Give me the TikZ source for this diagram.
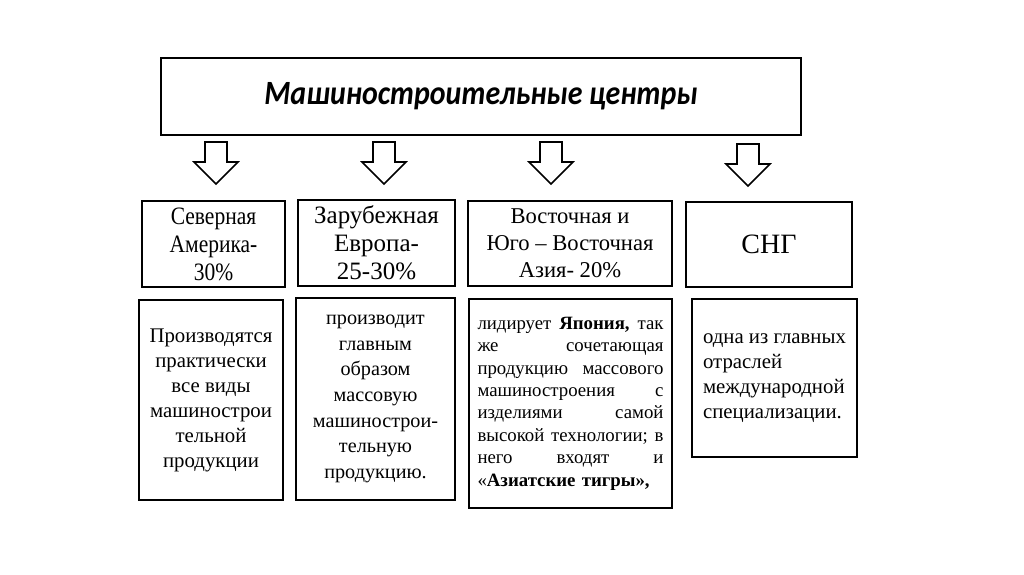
\documentclass[tikz,border=0pt]{standalone}
\usepackage{fontspec}
\setmainfont{Liberation Serif}[BoldFont={Liberation Serif Bold}]
\newfontfamily\titlefont{Carlito}[FakeStretch=0.88]
\newfontfamily\narrowfont{Liberation Serif}[FakeStretch=0.86]
\usetikzlibrary{positioning}
\newcommand\jline[1]{\leavevmode\hbox to 93pt{#1}}
\tikzset{
  hdr/.style ={draw,line width=1.2pt,inner sep=0pt,font=\titlefont\bfseries\itshape\fontsize{17}{20}\selectfont},
  reg/.style ={draw,line width=1.2pt,inner sep=0pt,align=center,font=\fontsize{12.5}{14}\selectfont},
  info/.style={draw,line width=1.2pt,inner sep=0pt,align=center,font=\fontsize{10.4}{12.5}\selectfont},
  downarr/.pic={\draw[line width=0.8pt] (-11,0) -- (-11,20) -- (-22,20) -- (0,42) -- (22,20) -- (11,20) -- (11,0) -- cycle;},
}
\begin{document}
\begin{tikzpicture}[x=0.5pt,y=-0.5pt]
  \useasboundingbox (0,0) rectangle (1024,574);
  \node[hdr,minimum width=320pt,minimum height=38.5pt] (title) at (481,96.5){Машиностроительные центры};
  % block arrows under the title
  \pic (arr1) at (216,142) {downarr};
  \pic (arr2) at (384,142) {downarr};
  \pic (arr3) at (551,142) {downarr};
  \pic (arr4) at (748,144) {downarr};
  % regions
  \node[reg,minimum width=71.5pt,minimum height=43pt,font=\narrowfont\fontsize{12.5}{14}\selectfont] (namer) at (213.5,244){Северная\\Америка-\\30\%};
  \node[reg,minimum width=78.5pt,minimum height=43pt] (europe) at (376.5,243){Зарубежная\\Европа-\\25-30\%};
  \node[reg,minimum width=102pt,minimum height=42.5pt,font=\fontsize{11.3}{13.5}\selectfont] (asia) at (570,243.5){Восточная и\\Юго – Восточная\\Азия- 20\%};
  \node[reg,minimum width=83pt,minimum height=42.5pt,font=\fontsize{14}{16}\selectfont] (cis) at (769,244.5){СНГ};
  % descriptions
  \node[info,minimum width=72pt,minimum height=100pt] (namerT) at (211,400){Производятся\\практически\\все виды\\машинострои\\тельной\\продукции};
  \node[info,minimum width=79.5pt,minimum height=101pt,font=\fontsize{10.1}{12.8}\selectfont] (europeT) at (375.5,399){производит\\главным\\образом\\массовую\\машинострои-\\тельную\\продукцию.};
  \node[info,minimum width=101.5pt,minimum height=104.5pt,text width=93pt,align=left,font=\fontsize{9.4}{11.2}\selectfont] (asiaT) at (570.5,403.5){\jline{лидирует\hfill\textbf{Япония,}\hfill так}\\
    \jline{же\hfill сочетающая}\\ \jline{продукцию\hfill массового}\\ \jline{машиностроения\hfill с}\\
    \jline{изделиями\hfill самой}\\ \jline{высокой\hfill технологии;\hfill в}\\ \jline{него\hfill входят\hfill и}\\
    «\textbf{Азиатские тигры»,}};
  \node[info,minimum width=82.5pt,minimum height=79pt,align=left] (cisT) at (774.5,378){одна из главных\\отраслей\\международной\\специализации.};
\end{tikzpicture}
\end{document}
